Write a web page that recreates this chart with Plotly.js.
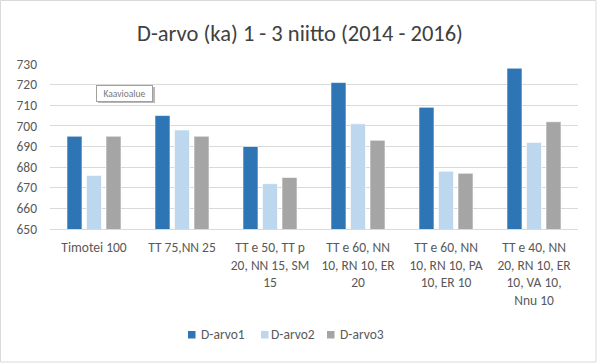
<!DOCTYPE html>
<html><head><meta charset="utf-8">
<script src="https://cdn.plot.ly/plotly-3.0.1.min.js"></script>
<style>html,body{margin:0;padding:0;background:#fff}#chart{width:600px;height:364px}</style>
</head><body><div id="chart"></div>
<script>
var categories = ["Timotei 100", "TT 75,NN 25", "TT e 50, TT p<br>20, NN 15, SM<br>15", "TT e 60, NN<br>10, RN 10, ER<br>20", "TT e 60, NN<br>10, RN 10, PA<br>10, ER 10", "TT e 40, NN<br>20, RN 10, ER<br>10, VA 10,<br>Nnu 10"];
var seriesNames = ["D-arvo1", "D-arvo2", "D-arvo3"];
var dArvo1 = [695, 705, 690, 721, 709, 728];
var dArvo2 = [676, 698, 672, 701, 678, 692];
var dArvo3 = [695, 695, 675, 693, 677, 702];
var colors = ["#2e75b6", "#bdd7ee", "#a5a5a5"];
var values = [dArvo1, dArvo2, dArvo3];

var L = 50, R = 578, T = 64, B = 229;
function px(x){ return (x - L) / (R - L); }
function py(y){ return (B - y) / (B - T); }

var traces = values.map(function(v, i){
  return {type:'bar', name: seriesNames[i], x: categories, y: v,
    marker:{color: colors[i], line:{color:'rgba(255,255,255,0.6)', width:1}}};
});

var legendX = [[188, 199], [261, 269], [327, 338]];
var annotations = [{xref:'paper', yref:'paper', x:px(96), y:py(93), xanchor:'left', yanchor:'middle', text:'Kaavioalue', showarrow:false, font:{size:9.5, color:'#767676'}, bordercolor:'#a0a0a0', borderwidth:1, bgcolor:'#fff', borderpad:2, width:51, height:11, align:'center'}];
var shapes = [
  {type:'rect', xref:'paper', yref:'paper', x0:px(0.5), x1:px(596), y0:py(362), y1:py(0.5), line:{color:'#d9d9d9', width:1}, fillcolor:'rgba(0,0,0,0)', layer:'below'},
  {type:'rect', xref:'paper', yref:'paper', x0:px(98), x1:px(155), y0:py(103), y1:py(87), line:{width:0}, fillcolor:'#b8b8b8', layer:'above'}
];
seriesNames.forEach(function(n, i){
  shapes.push({type:'rect', xref:'paper', yref:'paper', x0:px(legendX[i][0]), x1:px(legendX[i][0]+7.5), y0:py(338.5), y1:py(331), line:{width:0}, fillcolor:colors[i]});
  annotations.push({xref:'paper', yref:'paper', x:px(legendX[i][1]), y:py(334.5), xanchor:'left', yanchor:'middle', text:n, showarrow:false, font:{size:13.5, color:'#595959'}});
});

var layout = {
  width:600, height:364,
  margin:{l:L, r:600-R, t:T, b:364-B},
  paper_bgcolor:'#fff', plot_bgcolor:'#fff',
  font:{family:'Calibri, Carlito, "Liberation Sans", Arial, sans-serif', color:'#595959', size:13.5},
  title:{text:'D-arvo (ka) 1 - 3 niitto (2014 - 2016)', font:{size:22.5, color:'#404040'}, x:0.5, xanchor:'center', y:0.91, yanchor:'middle'},
  barmode:'group', bargap:0.335, bargroupgap:0.23,
  xaxis:{showgrid:false, showline:true, linecolor:'#d9d9d9', ticks:'', tickfont:{size:13.5, color:'#595959'}, tickangle:0, automargin:false, ticklabelstandoff:6},
  yaxis:{range:[650,730], dtick:10, showgrid:true, gridcolor:'#d9d9d9', zeroline:false, showline:false, ticks:'', tickfont:{size:13.5, color:'#595959'}, automargin:false, ticklabelstandoff:12},
  showlegend:false,
  annotations: annotations,
  shapes: shapes
};
Plotly.newPlot('chart', traces, layout, {displayModeBar:false, staticPlot:true});
</script></body></html>
